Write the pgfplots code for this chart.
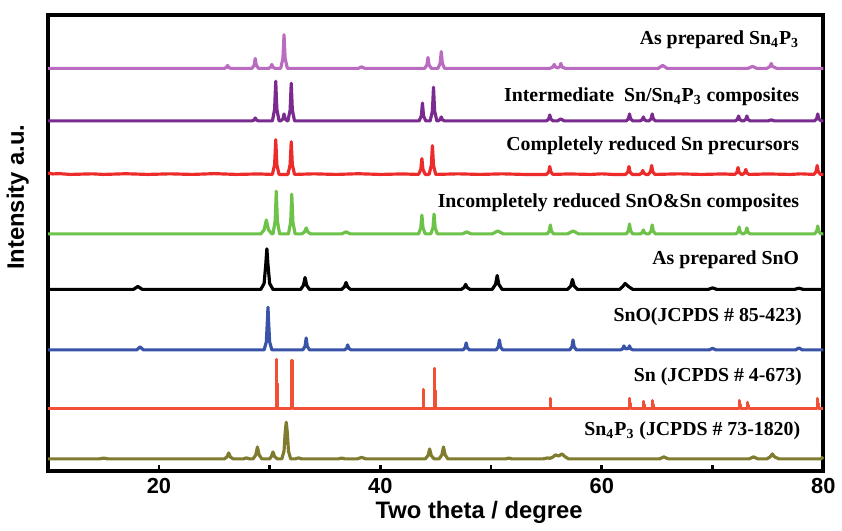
\documentclass[border=0pt]{standalone}
\usepackage{pgfplots}
\pgfplotsset{compat=1.18}
\usepackage{fontspec}
\setmainfont{Liberation Sans}
\newfontfamily\serifb{Liberation Serif}
\definecolor{cLilac}{HTML}{BA6CC0}
\definecolor{cPurple}{HTML}{7A2B8F}
\definecolor{cRed}{HTML}{EE2B2B}
\definecolor{cGreen}{HTML}{6DC24A}
\definecolor{cBlue}{HTML}{3853A8}
\definecolor{cOrange}{HTML}{F25036}
\definecolor{cOlive}{HTML}{7F7B2F}

\begin{document}
\begin{tikzpicture}
\begin{axis}[
    scale only axis,
    width=391pt, height=230pt,
    xmin=10, xmax=80, ymin=0, ymax=460,
    xtick={20,40,60,80},
    minor xtick={30,50,70},
    ytick=\empty,
    xtick pos=bottom,
    tick align=inside,
    major tick length=3pt, minor tick length=3pt,
    every tick/.style={black, line width=1.4pt},
    axis line style={line width=2.2pt},
    /pgf/number format/assume math mode=true,
    ticklabel style={font=\bfseries\fontsize{11}{13}\selectfont},
    xlabel={Two theta / degree},
    ylabel={Intensity a.u.},
    label style={font=\bfseries\fontsize{12}{14}\selectfont},
    xlabel style={at={(rel axis cs:0.556,0)}, anchor=north, yshift=-12pt},
    ylabel style={at={(rel axis cs:-0.016,0.6)}, anchor=south},
    every axis plot/.append style={line width=1.6pt, line join=round},
    clip=false,
]
% As prepared Sn4P3
\addplot[cLilac, y filter/.expression={y+406}] coordinates {
(10,0) (25.9,0)(26.1,0.9)(26.2,3)(26.3,0.9)(26.5,0)
(28.4,0)(28.6,3)(28.7,10)(28.8,3)(29.0,0)
(29.9,0)(30.1,1.2)(30.2,4)(30.3,1.2)(30.5,0)
(31.0,0)(31.2,10)(31.3,34)(31.4,10)(31.6,0)
(38.0,0)(38.3,1.5)(38.6,0)
(44.0,0)(44.2,3.3)(44.3,11)(44.4,3.3)(44.6,0)
(45.2,0)(45.4,5)(45.5,17)(45.6,5)(45.8,0)
(55.3,0)(55.6,1.5)(55.7,4)(55.8,1.5)(56.0,0.5)
(56.2,1.5)(56.3,5)(56.4,1.5)(56.7,0)
(65.1,0)(65.5,3)(65.9,0)
(73.2,0)(73.6,2)(74.0,0)
(74.9,0)(75.2,2)(75.3,5)(75.4,2)(75.8,0) (80,0)
};
% Intermediate Sn/Sn4P3
\addplot[cPurple, y filter/.expression={y+353}] coordinates {
(10,0) (28.4,0)(28.6,0.9)(28.7,3)(28.8,0.9)(29.0,0)
(30.25,0)(30.45,12)(30.55,40)(30.65,12)(30.85,0)
(31.0,0)(31.2,2)(31.3,7)(31.4,2)(31.6,0)
(31.65,0)(31.85,11)(31.95,38)(32.05,11)(32.25,0)
(43.5,0)(43.7,5)(43.8,18)(43.9,5)(44.1,0)
(44.5,0)(44.7,10)(44.8,34)(44.9,10)(45.1,0)
(45.2,0)(45.4,1.2)(45.5,4)(45.6,1.2)(45.8,0)
(55.0,0)(55.2,1.8)(55.3,6)(55.4,1.8)(55.6,0)
(56.0,0)(56.3,2)(56.6,0)
(62.2,0)(62.4,2)(62.5,7)(62.6,2)(62.8,0)
(63.45,0)(63.65,1.2)(63.75,4)(63.85,1.2)(64.05,0)
(64.25,0)(64.45,2)(64.55,7)(64.65,2)(64.85,0)
(72.05,0)(72.25,1.5)(72.35,5)(72.45,1.5)(72.65,0)
(72.8,0)(73.0,1.5)(73.1,5)(73.2,1.5)(73.4,0)
(75.0,0)(75.3,1)(75.6,0)
(79.2,0)(79.4,2)(79.5,7)(79.6,2)(79.8,0) (80,0)
};
% Completely reduced Sn precursors
\addplot[cRed, y filter/.expression={y+299}] coordinates {
(10,1.5)(10.4,0.5)(11,0.8)(12,0)(14,0.6)(15,0)(17,0.7)(19,0)(21,0.6)(23,0)(25,0.8)(27,0)(29,0.5)
(30.25,0)(30.45,10)(30.55,35)(30.65,10)(30.85,0)
(31.65,0)(31.85,10)(31.95,33)(32.05,10)(32.25,0)
(34,0.6)(36,0)(38,0.7)(40,0)(42,0.5)
(43.45,0)(43.65,5)(43.75,16)(43.85,5)(44.05,0)
(44.4,0)(44.6,9)(44.7,29)(44.8,9)(45.0,0)
(47,0.6)(49,0)(51,0.6)(53,0)
(55.0,0)(55.2,2.4)(55.3,8)(55.4,2.4)(55.6,0)
(57,0.5)(59,0)(60,0.6)(61,0)
(62.15,0)(62.35,2.4)(62.45,8)(62.55,2.4)(62.75,0)
(63.4,0)(63.6,1.2)(63.7,4)(63.8,1.2)(64.0,0)
(64.2,0)(64.4,2.7)(64.5,9)(64.6,2.7)(64.8,0)
(67,0.6)(69,0)(71,0.5)
(72.0,0)(72.2,2)(72.3,7)(72.4,2)(72.6,0)
(72.7,0)(72.9,1.5)(73.0,5)(73.1,1.5)(73.3,0)
(75,0.5)(77,0)(78,0.6)
(79.15,0)(79.35,2.7)(79.45,9)(79.55,2.7)(79.75,0) (80,0)
};
% Incompletely reduced SnO&Sn
\addplot[cGreen, y filter/.expression={y+239}] coordinates {
(10,0) (29.2,0)(29.5,4)(29.7,14)(29.9,4)(30.2,0)
(30.3,0)(30.5,13)(30.6,43)(30.7,13)(30.9,0)
(31.7,0)(31.9,12)(32.0,40)(32.1,12)(32.3,0)
(32.9,0)(33.15,2)(33.3,6)(33.45,2)(33.7,0)
(36.5,0)(36.9,2)(37.3,0)
(43.45,0)(43.65,6)(43.75,19)(43.85,6)(44.05,0)
(44.55,0)(44.75,6)(44.85,20)(44.95,6)(45.15,0)
(47.4,0)(47.8,2)(48.2,0)
(50.1,0)(50.6,3)(51.1,0)
(55.05,0)(55.25,2.7)(55.35,9)(55.45,2.7)(55.65,0)
(56.9,0)(57.4,3)(57.9,0)
(62.2,0)(62.4,3)(62.5,10)(62.6,3)(62.8,0)
(63.45,0)(63.65,1.2)(63.75,4)(63.85,1.2)(64.05,0)
(64.25,0)(64.45,2.7)(64.55,9)(64.65,2.7)(64.85,0)
(72.1,0)(72.3,2)(72.4,7)(72.5,2)(72.7,0)
(72.8,0)(73.0,1.8)(73.1,6)(73.2,1.8)(73.4,0)
(79.2,0)(79.4,2.4)(79.5,8)(79.6,2.4)(79.8,0) (80,0)
};
% As prepared SnO
\addplot[black, y filter/.expression={y+183}] coordinates {
(10,0) (17.7,0)(18.1,3)(18.5,0)
(29.2,0)(29.5,6)(29.65,25)(29.75,41)(29.85,25)(30.0,6)(30.3,0)
(32.8,0)(33.05,4)(33.2,12)(33.35,4)(33.6,0)
(36.5,0)(36.75,2.5)(36.9,7)(37.05,2.5)(37.3,0)
(47.3,0)(47.55,1.8)(47.7,5)(47.85,1.8)(48.1,0)
(50.1,0)(50.4,5)(50.55,14)(50.7,5)(51.0,0)
(56.9,0)(57.2,3.5)(57.35,10)(57.5,3.5)(57.8,0)
(61.6,0)(61.9,3)(62.1,6)(62.4,3)(62.8,0)
(69.6,0)(70.0,1.5)(70.4,0)
(77.4,0)(77.8,1.2)(78.2,0) (80,0)
};
% SnO JCPDS 85-423
\addplot[cBlue, y filter/.expression={y+122}] coordinates {
(10,0) (18.0,0)(18.3,3)(18.6,0)
(29.5,0)(29.7,8)(29.8,30)(29.85,43)(29.9,30)(30.0,8)(30.2,0)
(33.0,0)(33.2,3.6)(33.3,12)(33.4,3.6)(33.6,0)
(36.75,0)(36.95,1.5)(37.05,5)(37.15,1.5)(37.35,0)
(47.45,0)(47.65,2)(47.75,7)(47.85,2)(48.05,0)
(50.45,0)(50.65,3)(50.75,10)(50.85,3)(51.05,0)
(57.1,0)(57.3,3)(57.4,10)(57.5,3)(57.7,0)
(61.7,0)(61.9,1.2)(62.0,4)(62.1,1.5)(62.25,1)
(62.4,1.5)(62.5,4)(62.6,1.2)(62.8,0)
(69.7,0)(70.0,1.5)(70.3,0)
(77.5,0)(77.8,2)(78.1,0) (80,0)
};
% Sn JCPDS 4-673
\addplot[cOrange, line width=1.3pt, y filter/.expression={y+63}] coordinates {
(10,0)
(30.62,0)(30.62,49)(30.66,49)(30.66,25)(30.72,25)(30.72,0)
(32.00,0)(32.00,48)(32.04,48)(32.04,24)(32.10,24)(32.10,0)
(43.85,0)(43.85,19)(43.89,19)(43.89,11)(43.95,11)(43.95,0)
(44.88,0)(44.88,40)(44.92,40)(44.92,18)(44.98,18)(44.98,0)
(55.31,0)(55.31,10)(55.35,10)(55.35,5)(55.42,5)(55.42,0)
(62.52,0)(62.52,10)(62.56,10)(62.56,5)(62.63,5)(62.63,0)
(63.76,0)(63.76,7)(63.80,7)(63.80,4)(63.87,4)(63.87,0)
(64.56,0)(64.56,8)(64.60,8)(64.60,4)(64.67,4)(64.67,0)
(72.40,0)(72.40,8)(72.44,8)(72.44,4)(72.51,4)(72.51,0)
(73.17,0)(73.17,6)(73.21,6)(73.21,3)(73.28,3)(73.28,0)
(79.45,0)(79.45,10)(79.49,10)(79.49,5)(79.56,5)(79.56,0)
(80,0)
};
% Sn4P3 JCPDS 73-1820
\addplot[cOlive, y filter/.expression={y+12}] coordinates {
(10,0) (14.6,0)(15.0,0.8)(15.4,0)
(25.9,0)(26.15,2)(26.3,6)(26.45,2)(26.7,0)
(27.6,0)(27.9,1)(28.2,0)
(28.5,0)(28.75,4)(28.9,12)(29.05,4)(29.3,0)
(30.0,0)(30.15,2.3)(30.3,7)(30.45,2.3)(30.7,0)
(31.1,0)(31.3,8)(31.4,26)(31.5,37)(31.6,26)(31.7,8)(31.9,0)
(32.3,0)(32.6,1)(32.9,0)
(36.2,0)(36.5,0.8)(36.8,0)
(37.9,0)(38.3,1.5)(38.7,0)
(44.05,0)(44.3,3.3)(44.45,10)(44.6,3.3)(44.85,0)
(45.3,0)(45.55,4)(45.7,12)(45.85,4)(46.1,0)
(51.3,0)(51.6,0.8)(51.9,0)
(54.7,0)(55.1,1)(55.3,0.5)(55.6,2)(55.8,4)(56.1,3)(56.4,5)(56.7,2)(57.0,0)
(65.2,0)(65.6,2)(66.0,0)
(73.3,0)(73.7,2)(74.1,0)
(74.9,0)(75.2,2)(75.4,5)(75.6,2)(76.0,0) (79.8,0)(80,2)
};
% labels
\begin{scope}[every node/.style={anchor=east, inner sep=0pt, font=\serifb\bfseries\fontsize{10}{12}\selectfont}]
\node at (axis cs:77.86,435) {As prepared Sn\textsubscript{4}P\textsubscript{3}};
\node at (axis cs:77.86,377) {Intermediate~~Sn/Sn\textsubscript{4}P\textsubscript{3} composites};
\node at (axis cs:77.86,328) {Completely reduced Sn precursors};
\node at (axis cs:77.86,270) {Incompletely reduced SnO\&Sn composites};
\node at (axis cs:77.86,213) {As prepared SnO};
\node at (axis cs:78.1,155) {SnO(JCPDS \# 85-423)};
\node at (axis cs:78.1,95) {Sn (JCPDS \# 4-673)};
\node at (axis cs:77.95,40) {Sn\textsubscript{4}P\textsubscript{3} (JCPDS \# 73-1820)};
\end{scope}
\end{axis}
\path (current axis.south west) ++(-22.5pt,-25pt) rectangle ([shift={(7.5pt,7.5pt)}]current axis.north east);
\end{tikzpicture}
\end{document}
